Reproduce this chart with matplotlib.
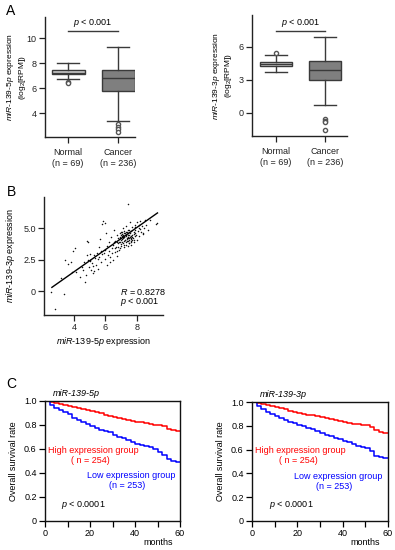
import matplotlib
matplotlib.use("Agg")
import matplotlib.pyplot as plt
import numpy as np

plt.rcParams['font.family'] = ['Liberation Sans', 'DejaVu Sans']
plt.rcParams['mathtext.fontset'] = 'custom'
plt.rcParams['mathtext.rm'] = 'Liberation Sans'
plt.rcParams['mathtext.it'] = 'Liberation Sans:italic'
plt.rcParams['font.size'] = 6.5

#-----data: panel A box plots-------------------------------------------------
groups = ['Normal\n(n = 69)', 'Cancer\n(n = 236)']
# miR-139-5p
box5_whislo = [6.7, 3.4]
box5_q1 = [7.1, 5.8]
box5_med = [7.25, 6.8]
box5_q3 = [7.45, 7.45]
box5_whishi = [8.0, 9.3]
box5_fliers = [[6.5, 6.4], [3.1, 2.9, 2.7, 2.5]]
# miR-139-3p
box3_whislo = [3.7, 0.7]
box3_q1 = [4.25, 2.95]
box3_med = [4.45, 3.9]
box3_q3 = [4.65, 4.7]
box3_whishi = [5.25, 6.9]
box3_fliers = [[5.4], [-0.6, -0.7, -0.8, -1.6]]

#-----data: panel B scatter---------------------------------------------------
sc_x = [2.55, 2.8, 3.4, 3.2, 3.45, 3.95, 4.05, 3.8, 3.6, 3.85, 4.15, 4.4, 4.5, 4.6,
        4.7, 4.75, 4.8, 4.9, 4.8, 4.9, 5.0, 5.05, 5.1, 5.2, 5.2, 5.3, 5.3, 5.4, 5.45,
        5.5, 5.55, 5.6, 5.65, 5.7, 5.7, 5.75, 5.85, 5.95, 5.9, 5.95, 6.0, 6.05, 6.1,
        6.1, 6.2, 6.25, 6.3, 6.35, 6.4, 6.45, 6.5, 6.55, 6.6, 6.6, 6.65, 6.7, 6.75,
        6.8, 6.8, 6.85, 6.9, 6.9, 6.95, 7.0, 7.0, 7.0, 7.05, 7.05, 7.1, 7.1, 7.1,
        7.15, 7.15, 7.2, 7.2, 7.2, 7.25, 7.25, 7.3, 7.3, 7.3, 7.35, 7.35, 7.4, 7.4,
        7.4, 7.45, 7.45, 7.5, 7.5, 7.5, 7.55, 7.55, 7.6, 7.6, 7.65, 7.65, 7.7, 7.7,
        7.75, 7.8, 7.8, 7.85, 7.85, 7.9, 7.95, 8.0, 8.0, 8.05, 8.1, 8.15, 8.2, 8.25,
        8.3, 8.4, 8.5, 8.6, 8.7, 8.8, 9.2, 9.3, 6.95, 7.05, 7.15, 7.25, 7.35, 7.45,
        7.55, 7.6, 7.7, 7.8, 6.85, 7.0, 7.1, 7.3, 7.4, 7.5, 6.6, 6.7, 6.8, 4.65,
        4.95, 5.15, 5.35, 5.8, 6.15, 6.4, 7.9, 8.1, 8.35, 8.45,
        7.02, 7.12, 7.22, 7.32, 7.42, 7.52, 7.62, 7.18, 7.28, 7.38, 7.48, 7.58,
        6.98, 7.08, 7.68, 7.78, 7.88, 6.75, 6.9, 7.6, 8.2, 5.05, 5.6, 6.3, 6.55]
sc_y = [-0.05, -1.45, -0.2, 1.05, 2.45, 3.2, 3.45, 2.3, 2.2, 1.55, 1.5, 1.15, 1.9, 1.65,
        0.75, 1.3, 4.0, 3.9, 2.85, 2.45, 2.4, 2.5, 1.7, 2.0, 1.45, 2.9, 1.6, 2.1, 3.05,
        1.8, 2.55, 2.7, 4.15, 2.3, 3.2, 5.35, 5.55, 5.4, 3.0, 2.6, 3.3, 4.6, 3.6,
        2.1, 3.95, 3.2, 2.75, 4.3, 3.4, 2.5, 3.7, 4.9, 4.0, 3.1, 3.5, 2.8, 4.5,
        3.8, 4.2, 3.3, 4.6, 3.9, 4.3, 4.1, 3.6, 4.7, 4.4, 3.9, 4.2, 5.0, 4.5,
        3.7, 4.0, 4.3, 4.8, 3.5, 4.1, 4.6, 4.4, 3.9, 5.2, 4.2, 4.7, 4.0, 4.5,
        3.6, 6.95, 4.3, 4.9, 4.1, 3.8, 4.6, 5.5, 4.4, 4.0, 4.8, 3.7, 4.5, 5.1,
        4.2, 4.7, 3.9, 5.3, 4.4, 4.9, 4.5, 5.5, 4.1, 4.8, 5.0, 4.4, 5.6, 4.7,
        5.2, 4.6, 5.7, 5.3, 4.9, 5.7, 5.35, 5.4, 4.25, 4.55, 4.35, 4.45, 4.15, 4.65,
        4.35, 4.25, 4.05, 4.55, 3.95, 3.75, 3.85, 3.65, 4.85, 4.2, 3.4, 3.2, 3.55, 2.35,
        1.95, 2.25, 2.65, 2.95, 2.85, 3.05, 5.1, 5.3, 4.55, 5.05,
        4.15, 4.35, 4.05, 4.5, 4.25, 4.45, 4.15, 4.6, 4.75, 4.0, 3.85, 4.3,
        4.5, 4.7, 4.35, 4.05, 4.6, 3.95, 3.45, 3.9, 4.95, 2.95, 3.55, 2.35, 3.9]
fit_x = [2.6, 9.3]
fit_slope, fit_icpt = 0.885, -2.0

#-----data: panel C survival curves-------------------------------------------
km_t = [0, 2, 4, 6, 8, 10, 12, 14, 16, 18, 20, 22, 24, 26, 28, 30,
        32, 34, 36, 38, 40, 42, 44, 46, 48, 50, 52, 54, 56, 58, 60]
km5_high = [1.0, 0.992, 0.984, 0.972, 0.964, 0.956, 0.948, 0.94, 0.93, 0.922, 0.915,
            0.906, 0.896, 0.886, 0.876, 0.866, 0.856, 0.846, 0.84, 0.834, 0.828,
            0.822, 0.815, 0.808, 0.802, 0.797, 0.788, 0.77, 0.755, 0.746, 0.746]
km5_low = [1.0, 0.967, 0.945, 0.928, 0.912, 0.895, 0.86, 0.84, 0.822, 0.806, 0.79,
           0.775, 0.762, 0.75, 0.738, 0.72, 0.704, 0.69, 0.675, 0.66, 0.645,
           0.635, 0.625, 0.615, 0.598, 0.578, 0.55, 0.52, 0.5, 0.494, 0.494]
km3_high = [1.0, 0.99, 0.982, 0.975, 0.968, 0.958, 0.948, 0.938, 0.925, 0.915, 0.906,
            0.9, 0.894, 0.89, 0.884, 0.872, 0.862, 0.855, 0.848, 0.838, 0.83,
            0.823, 0.817, 0.812, 0.808, 0.804, 0.79, 0.765, 0.748, 0.74, 0.74]
km3_low = [1.0, 0.965, 0.945, 0.92, 0.903, 0.885, 0.865, 0.848, 0.834, 0.82, 0.806,
           0.795, 0.782, 0.77, 0.758, 0.742, 0.726, 0.712, 0.7, 0.685, 0.673,
           0.662, 0.65, 0.634, 0.622, 0.612, 0.585, 0.55, 0.535, 0.532, 0.532]

W, H = 395, 550
fig = plt.figure(figsize=(W / 100, H / 100), dpi=100)

def ax_px(x0, y0, x1, y1):
    return fig.add_axes([x0 / W, 1 - y1 / H, (x1 - x0) / W, (y1 - y0) / H])

def style_open(ax):
    for s in ['top', 'right']:
        ax.spines[s].set_visible(False)
    for s in ['left', 'bottom']:
        ax.spines[s].set_linewidth(1.0)
        ax.spines[s].set_color('#222222')
    ax.tick_params(length=4, width=0.9, pad=2, labelsize=6.5, colors='#222222')

#-----Panel A: box plots------------------------------------------------------
def boxpanel(ax, wl, q1, med, q3, wh, fl, ylim, yticks, pbar_y, ptxt_y, ylabel, xlim, labx):
    stats = []
    for i in range(2):
        stats.append(dict(whislo=wl[i], q1=q1[i], med=med[i], q3=q3[i], whishi=wh[i],
                          fliers=fl[i]))
    b = ax.bxp(stats, positions=[1, 2], widths=0.66, patch_artist=True, capwidths=0.45,
               boxprops=dict(edgecolor='#3a3a3a', linewidth=1.0),
               medianprops=dict(color='#3a3a3a', linewidth=1.0),
               whiskerprops=dict(color='#3a3a3a', linewidth=1.0),
               capprops=dict(color='#3a3a3a', linewidth=1.0),
               flierprops=dict(marker='o', markersize=3, markerfacecolor='white',
                               markeredgecolor='#555555', markeredgewidth=1.0))
    b['boxes'][0].set_facecolor('#cfcfcf')
    b['boxes'][1].set_facecolor('#7f7f7f')
    ax.set_ylim(*ylim)
    ax.set_xlim(*xlim)
    ax.set_yticks(yticks)
    ax.set_xticks([1, 2])
    ax.set_xticklabels(groups)
    style_open(ax)
    ax.tick_params(axis='x', pad=4)
    ax.plot([1, 2], [pbar_y, pbar_y], color='#3a3a3a', lw=1.0)
    ax.text(1.5, ptxt_y, '$p$ < 0.001', ha='center', va='center', fontsize=6.5)
    ax.set_ylabel(ylabel, fontsize=6, linespacing=1.15)
    ax.yaxis.set_label_coords(labx, 0.5)

axA1 = ax_px(45, 17, 135, 137)
boxpanel(axA1, box5_whislo, box5_q1, box5_med, box5_q3, box5_whishi, box5_fliers,
         (2.1, 11.7), [4, 6, 8, 10], 10.6, 11.2,
         r'$miR$-$139$-$5p$ expression' + '\n' + r'(log$_2$[RPM])', (0.54, 2.34), -0.19)
axA2 = ax_px(252, 15, 347, 136)
boxpanel(axA2, box3_whislo, box3_q1, box3_med, box3_q3, box3_whishi, box3_fliers,
         (-2.1, 8.9), [0, 3, 6], 7.45, 8.2,
         r'$miR$-$139$-$3p$ expression' + '\n' + r'(log$_2$[RPM])', (0.51, 2.45), -0.19)

#-----Panel B: scatter--------------------------------------------------------
axB = ax_px(44, 197, 163, 315)
axB.scatter(sc_x, sc_y, s=1.2, color='#111111', linewidths=0)
fx = np.array(fit_x)
axB.plot(fx, fit_slope * fx + fit_icpt, color='black', lw=1.0)
axB.set_xlim(2.1, 9.65)
axB.set_ylim(-1.9, 7.5)
axB.set_xticks([4, 6, 8])
axB.set_yticks([0, 2.5, 5.0])
axB.set_yticklabels(['0', '2.5', '5.0'])
style_open(axB)
axB.set_xlabel(r'$miR$-$139$-$5p$ expression', fontsize=6.5, labelpad=2)
axB.set_ylabel(r'$miR$-$139$-$3p$ expression', fontsize=6.5)
axB.yaxis.set_label_coords(-0.227, 0.5)
axB.text(0.64, 0.195, '$R$ = 0.8278', transform=axB.transAxes, fontsize=6.5, va='center')
axB.text(0.64, 0.11, '$p$ < 0.001', transform=axB.transAxes, fontsize=6.5, va='center')

#-----Panel C: survival-------------------------------------------------------
def kmpanel(ax, high, low, title, mx):
    ax.step(km_t, high, where='post', color='#ff0000', lw=1.1)
    ax.step(km_t, low, where='post', color='#0000ff', lw=1.1)
    ax.set_xlim(0, 60)
    ax.set_ylim(0, 1.0)
    ax.set_xticks([0, 10, 20, 30, 40, 50, 60])
    ax.set_xticklabels(['0', '', '20', '', '40', '', '60'])
    ax.set_yticks([0, 0.2, 0.4, 0.6, 0.8, 1.0])
    ax.set_yticklabels(['0', '0.2', '0.4', '0.6', '0.8', '1.0'])
    for s in ax.spines.values():
        s.set_linewidth(1.0)
        s.set_color('#111111')
    ax.tick_params(length=4, width=0.9, pad=2, labelsize=6.5)
    ax.set_ylabel('Overall survival rate', fontsize=6.5)
    ax.yaxis.set_label_coords(-0.2, 0.5)
    ax.text(1.3, 0.59, 'High expression group', color='#ff0000', fontsize=6.5, va='center')
    ax.text(20.3, 0.508, '( n = 254)', color='#ff0000', fontsize=6.5, ha='center', va='center')
    ax.text(18.5, 0.375, 'Low expression group', color='#0000ff', fontsize=6.5, va='center')
    ax.text(36.4, 0.292, '(n = 253)', color='#0000ff', fontsize=6.5, ha='center', va='center')
    ax.text(7.3, 0.133, '$p$ < 0.0001', fontsize=6.5, va='center')
    ax.text(3.6, 1.065, title, fontsize=6.5, fontstyle='italic', va='center')
    ax.text(mx, -0.18, 'months', transform=ax.transAxes, fontsize=6.5, ha='right',
            va='center')

axC1 = ax_px(45, 401, 180, 521)
kmpanel(axC1, km5_high, km5_low, 'miR-139-5p', 0.95)
axC2 = ax_px(252, 402, 388, 521)
kmpanel(axC2, km3_high, km3_low, 'miR-139-3p', 0.94)

#-----panel letters-----------------------------------------------------------
for lab, x, y in [('A', 11, 11), ('B', 11, 192), ('C', 11, 384)]:
    fig.text(x / W, 1 - y / H, lab, fontsize=10, ha='center', va='center')

fig.savefig('out.png', dpi=100)
